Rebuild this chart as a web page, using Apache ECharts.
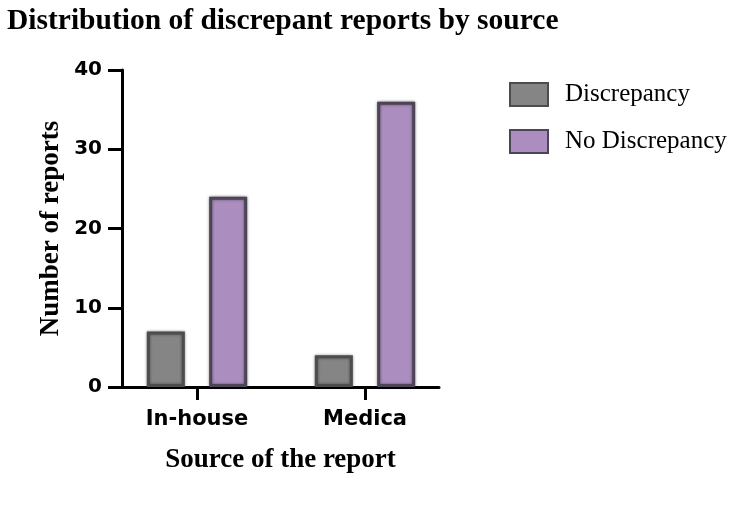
<!DOCTYPE html>
<html>
<head>
<meta charset="utf-8">
<script src="https://cdn.jsdelivr.net/npm/echarts@6/dist/echarts.min.js"></script>
<style>html,body{margin:0;padding:0;background:#fff;}#c{width:750px;height:507px;}</style>
</head>
<body>
<div id="c"></div>
<script>
const categories = ['In-house', 'Medica'];
const discrepancy = [7, 4];
const noDiscrepancy = [24, 36];
const yTicks = { min: 0, max: 40, interval: 10 };

const chart = echarts.init(document.getElementById('c'), null, { renderer: 'canvas' });
const serif = 'Liberation Serif, Times New Roman, serif';
const sans = 'DejaVu Sans, Arial, sans-serif';
const gridTop = 70, gridBottom = 120;

chart.setOption({
  animation: false,
  backgroundColor: '#fff',
  title: {
    text: 'Distribution of discrepant reports by source',
    left: 7, top: 6, padding: 0,
    textStyle: { fontFamily: serif, fontWeight: 'bold', fontSize: 29.5, color: '#000' }
  },
  legend: {
    orient: 'vertical', left: 509, top: 82, padding: 0,
    itemWidth: 38, itemHeight: 23, itemGap: 22,
    icon: 'rect',
    textStyle: { fontFamily: serif, fontSize: 25, color: '#000', padding: [0, 0, 0, 12] },
    data: ['Discrepancy', 'No Discrepancy']
  },
  grid: [
    { left: 122, right: 311, top: gridTop, bottom: gridBottom },
    { left: 113, right: 301, top: gridTop, bottom: gridBottom }
  ],
  xAxis: [
    {
      gridIndex: 0, type: 'category', data: categories,
      axisLine: { lineStyle: { color: '#000', width: 3 } },
      axisTick: { show: false }, axisLabel: { show: false },
      name: 'Source of the report', nameLocation: 'middle', nameGap: 60,
      nameTextStyle: { fontFamily: serif, fontWeight: 'bold', fontSize: 27, color: '#000' }
    },
    {
      gridIndex: 1, type: 'category', data: categories,
      axisLine: { show: false },
      axisTick: { show: true, alignWithLabel: true, length: 13, lineStyle: { color: '#000', width: 3 } },
      axisLabel: { margin: 22, fontFamily: sans, fontWeight: 'bold', fontSize: 21, color: '#000' }
    }
  ],
  yAxis: [
    {
      gridIndex: 0, type: 'value', min: yTicks.min, max: yTicks.max, interval: yTicks.interval,
      splitLine: { show: false },
      axisLine: { show: true, lineStyle: { color: '#000', width: 3 } },
      axisTick: { show: true, length: 14, lineStyle: { color: '#000', width: 3 } },
      axisLabel: { margin: 20, fontFamily: sans, fontWeight: 'bold', fontSize: 20, color: '#000' },
      name: 'Number of reports', nameLocation: 'middle', nameGap: 57, nameRotate: 90,
      nameTextStyle: { fontFamily: serif, fontWeight: 'bold', fontSize: 27, color: '#000' }
    },
    {
      gridIndex: 1, type: 'value', min: yTicks.min, max: yTicks.max, interval: yTicks.interval,
      show: false, splitLine: { show: false }
    }
  ],
  series: [
    {
      name: 'Discrepancy', type: 'bar', xAxisIndex: 1, yAxisIndex: 1,
      data: discrepancy, barWidth: 38, barGap: '64%',
      itemStyle: { color: '#858585', borderColor: '#4d4d4d', borderWidth: 3,
        shadowColor: 'rgba(0,0,0,0.45)', shadowBlur: 3 }
    },
    {
      name: 'No Discrepancy', type: 'bar', xAxisIndex: 1, yAxisIndex: 1,
      data: noDiscrepancy, barWidth: 38, barGap: '64%',
      itemStyle: { color: '#ab8ebf', borderColor: '#4d4456', borderWidth: 3,
        shadowColor: 'rgba(0,0,0,0.45)', shadowBlur: 3 }
    }
  ]
});
</script>
</body>
</html>
